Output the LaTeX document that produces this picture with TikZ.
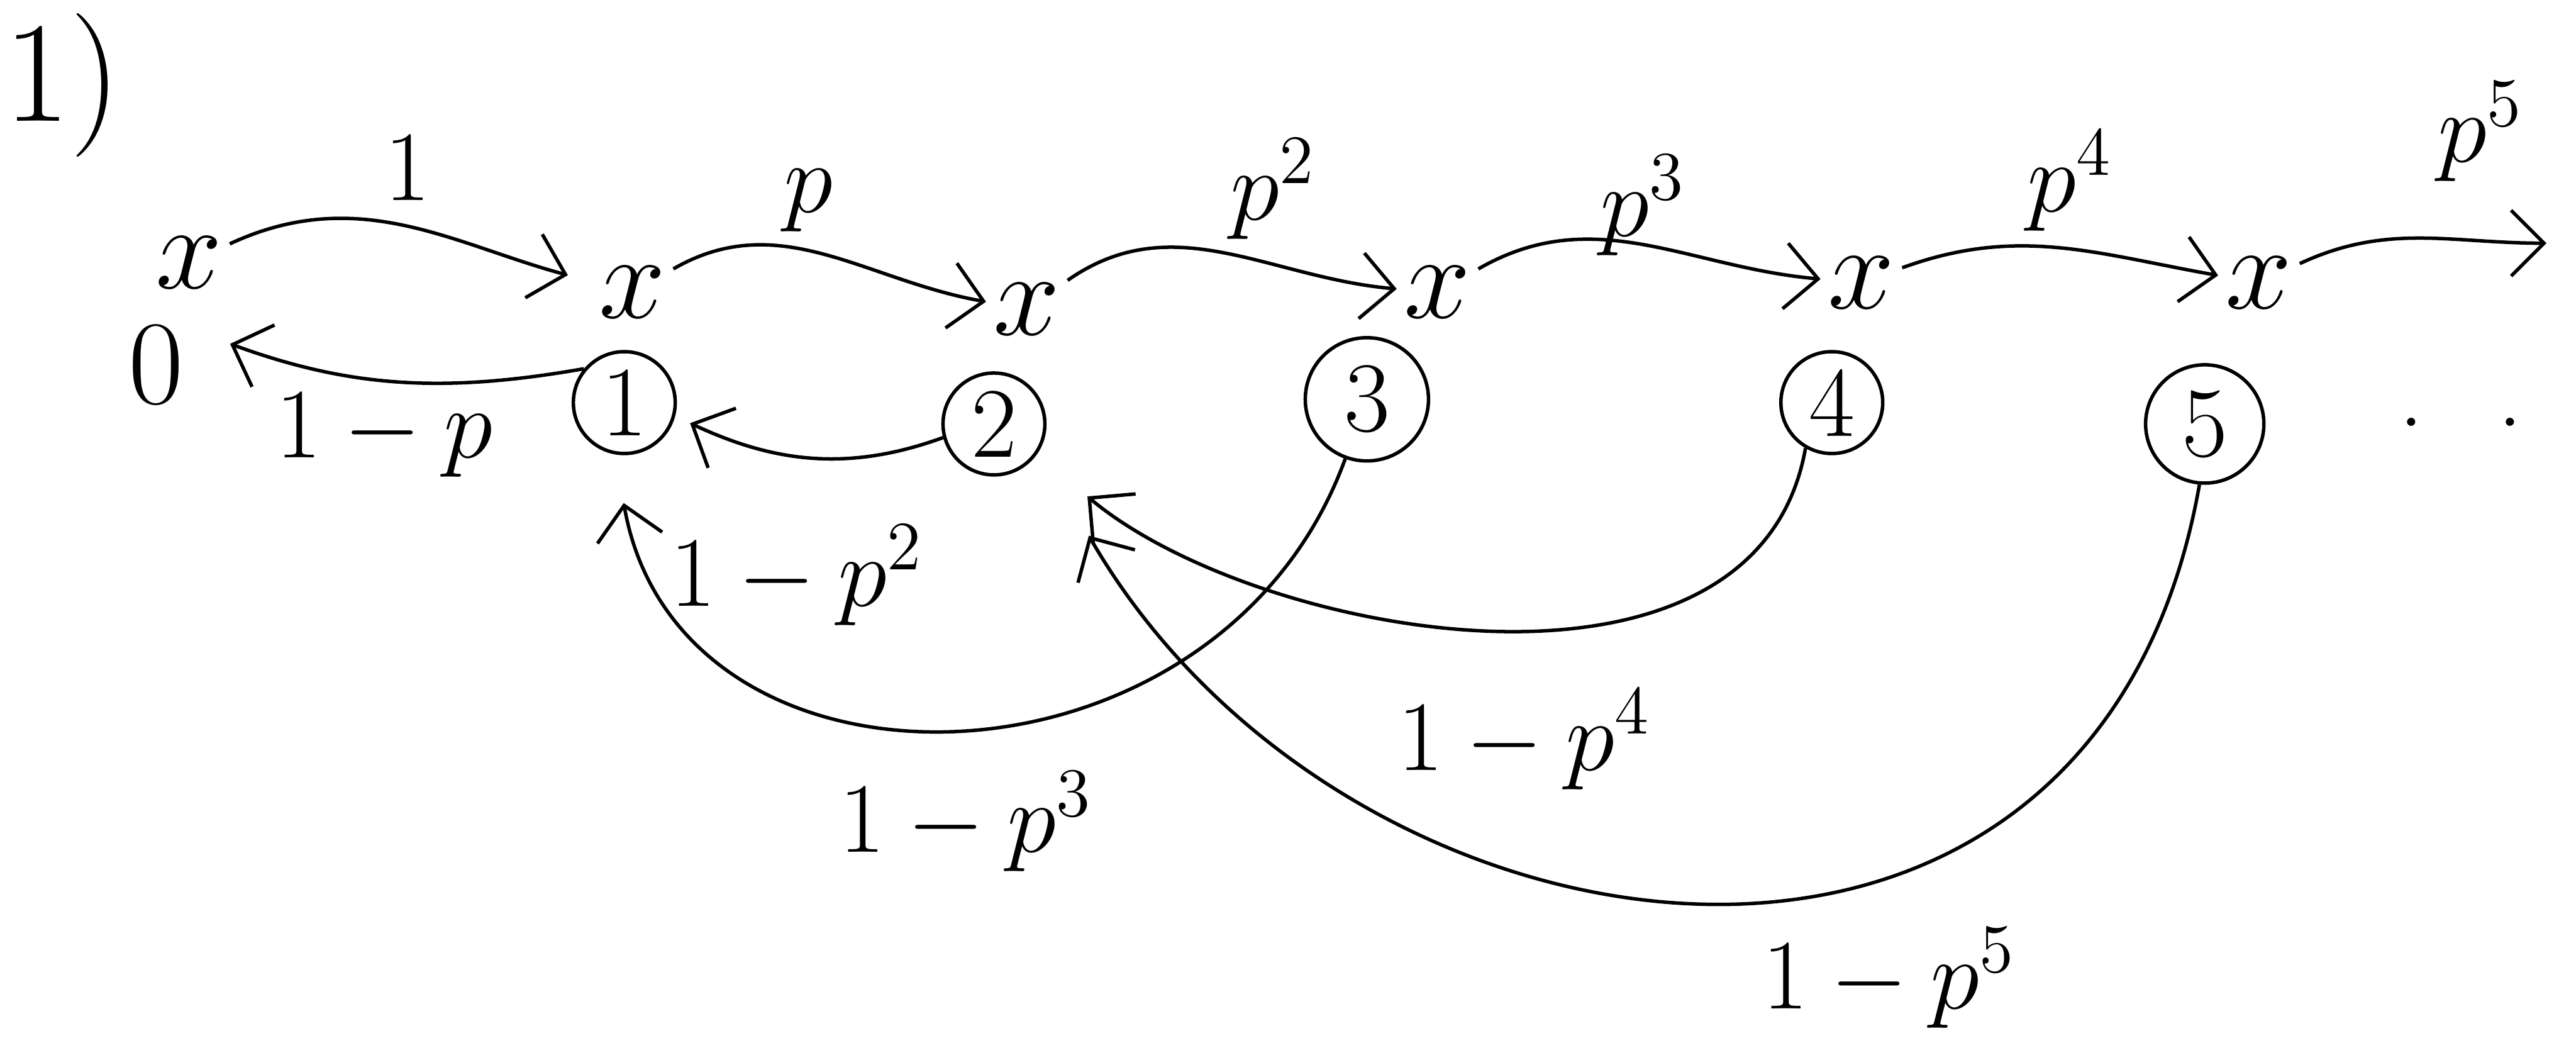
\documentclass[tikz,border=0pt]{standalone}
\usepackage{amsmath}
\usepackage{amssymb}
\usetikzlibrary{arrows.meta}

\begin{document}
\begin{tikzpicture}[line width = 0.6pt,
                    >={Straight Barb[length = 2mm, width = 4mm]},
                    state/.style = {circle, draw, minimum size = 0.62cm, inner sep = 1pt, font = \LARGE},
                    xpos/.style = {inner sep = 1pt, font = \huge},
                    lab/.style = {font = \LARGE}]
  \useasboundingbox (0,0) rectangle (15.68,-6.45);
  \node [font = \Huge] (Q1) at (0.38,-0.52) {1)};

  \node [state, draw = none, font = \huge] (S0) at (0.95,-2.22) {0};
  \node [state] (S1) at (3.80,-2.45) {1};
  \node [state] (S2) at (6.05,-2.58) {2};
  \node [state, minimum size = 0.75cm] (S3) at (8.32,-2.43) {3};
  \node [state] (S4) at (11.15,-2.45) {4};
  \node [state, minimum size = 0.72cm] (S5) at (13.42,-2.58) {5};
  \node [lab] (D) at (14.98,-2.57) {.\hspace{0.45cm}.};

  \node [xpos] (X0) at (1.15,-1.60) {$x$};
  \node [xpos] (X1) at (3.85,-1.78) {$x$};
  \node [xpos] (X2) at (6.25,-1.88) {$x$};
  \node [xpos] (X3) at (8.75,-1.78) {$x$};
  \node [xpos] (X4) at (11.33,-1.72) {$x$};
  \node [xpos] (X5) at (13.75,-1.72) {$x$};
  \coordinate (E5) at (15.50,-1.48);

  \node [lab] (L01) at (2.48,-1.02) {1};
  \node [lab] (L12) at (4.92,-1.22) {$p$};
  \node [lab] (L23) at (7.75,-1.15) {$p^{2}$};
  \node [lab] (L34) at (10.00,-1.25) {$p^{3}$};
  \node [lab] (L45) at (12.60,-1.10) {$p^{4}$};
  \node [lab] (L5E) at (15.10,-0.80) {$p^{5}$};

  \node [lab] (L10) at (2.34,-2.65) {$1-p$};
  \node [lab] (L21) at (4.85,-3.50) {$1-p^{2}$};
  \node [lab] (L31) at (5.88,-5.00) {$1-p^{3}$};
  \node [lab] (L42) at (9.28,-4.50) {$1-p^{4}$};
  \node [lab] (L52) at (11.50,-5.95) {$1-p^{5}$};

  \draw [->, shorten > = 1.5mm] (X0) to [out = 25, in = 165] (X1);
  \draw [->] (X1) to [out = 30, in = 170] (X2);
  \draw [->] (X2) to [out = 35, in = 175] (X3);
  \draw [->] (X3) to [out = 30, in = 175] (X4);
  \draw [->] (X4) to [out = 20, in = 170] (X5);
  \draw [->] (X5) to [out = 25, in = 180] (E5);

  \draw [->, shorten > = 1.5mm] (S1.140) to [out = 190, in = -20] (S0.30);
  \draw [->, shorten > = 1mm] (S2.195) to [out = 200, in = -25] (S1.-15);
  \draw [->, shorten > = 3mm] (S3.-110) to [out = -110, in = -80, looseness = 1.3] (S1.-100);
  \draw [->, shorten > = 4mm] (S4.-120) to [out = -100, in = -40, looseness = 0.95] (S2.-35);
  \draw [->, shorten > = 6mm] (S5.-95) to [out = -100, in = -60, looseness = 1.35] (S2.-30);
\end{tikzpicture}
\end{document}
